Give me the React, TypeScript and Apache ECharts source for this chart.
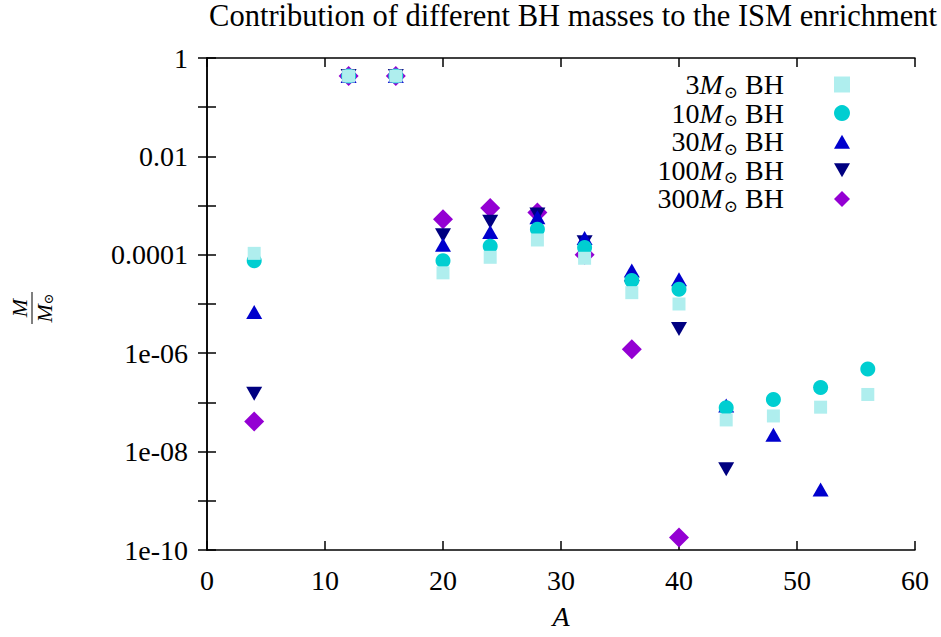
import React, { useEffect, useRef } from "react";
import * as echarts from "echarts";

// Mass number of each isotope group
const massNumbers = [4, 12, 16, 20, 24, 28, 32, 36, 40, 44, 48, 52, 56];

// Ejected mass (in solar masses) per BH mass; null where nothing is ejected
const bh3 = [1.07e-4, 0.43, 0.43, 4.3e-5, 8.9e-5, 2.0e-4, 8.5e-5, 1.7e-5, 1.0e-5, 4.4e-8, 5.3e-8, 8.0e-8, 1.45e-7];
const bh10 = [7.6e-5, 0.43, 0.43, 7.6e-5, 1.5e-4, 3.3e-4, 1.4e-4, 3.0e-5, 2.0e-5, 7.8e-8, 1.15e-7, 2.0e-7, 4.8e-7];
const bh30 = [6.9e-6, 0.43, 0.43, 1.6e-4, 2.9e-4, 5.8e-4, 2.2e-4, 4.8e-5, 3.2e-5, 8.7e-8, 2.2e-8, 1.7e-9, null];
const bh100 = [1.5e-7, 0.43, 0.43, 2.5e-4, 4.7e-4, 6.6e-4, 1.8e-4, 2.2e-5, 3.1e-6, 4.4e-9, null, null, null];
const bh300 = [4.1e-8, 0.43, 0.43, 5.3e-4, 8.9e-4, 7.2e-4, 1.0e-4, 1.2e-6, 1.8e-10, null, null, null, null];

const seriesNames = ["3M⊙ BH", "10M⊙ BH", "30M⊙ BH", "100M⊙ BH", "300M⊙ BH"];
const seriesValues = [bh3, bh10, bh30, bh100, bh300];

// Labelled decades on the y axis
const yTickExponents = [0, -2, -4, -6, -8, -10];
const yTickLabels = ["1", "0.01", "0.0001", "1e-06", "1e-08", "1e-10"];

const SERIF = "'Liberation Serif', 'DejaVu Serif', serif";

const markers = [
  { symbol: "rect", size: 13, color: "#afeeee", icon: "rect" },
  { symbol: "circle", size: 15, color: "#00ced1", icon: "circle" },
  { symbol: "triangle", size: [16, 14], color: "#0000cd", rotate: 0, icon: "path://M8,0 L16,14 L0,14 Z" },
  { symbol: "triangle", size: [16, 14], color: "#000080", rotate: 180, icon: "path://M0,0 L16,0 L8,14 Z" },
  { symbol: "diamond", size: 20, color: "#9400d3", icon: "diamond" },
];

function yLabel(v: number): string {
  const e = Math.round(Math.log10(v));
  const i = yTickExponents.indexOf(e);
  return i >= 0 ? yTickLabels[i] : "";
}

const axisLine = { show: true, lineStyle: { color: "#000", width: 1.5 } };
const axisTick = { show: true, inside: true, length: 9, lineStyle: { color: "#000", width: 1.5 } };

export default function App() {
  const ref = useRef<HTMLDivElement>(null);

  useEffect(() => {
    if (!ref.current) return;
    const chart = echarts.init(ref.current, null, { renderer: "svg" });

    const series = seriesNames.map((name, i) => ({
      name,
      type: "scatter",
      xAxisIndex: 0,
      yAxisIndex: 0,
      z: 10 - i,
      symbol: markers[i].symbol,
      symbolSize: markers[i].size,
      symbolRotate: (markers[i] as any).rotate ?? 0,
      itemStyle: { color: markers[i].color, opacity: 1 },
      data: massNumbers
        .map((a, k) => [a, seriesValues[i][k]])
        .filter((p) => p[1] !== null),
    }));

    const legendRich = {
      n: { fontFamily: SERIF, fontSize: 28, color: "#000", lineHeight: 29 },
      m: { fontFamily: SERIF, fontSize: 28, fontStyle: "italic", color: "#000", lineHeight: 29 },
      s: { fontFamily: "'DejaVu Serif', serif", fontSize: 17, color: "#000", lineHeight: 29, padding: [14, 0, 0, 1] },
      b: { fontFamily: SERIF, fontSize: 28, color: "#000", lineHeight: 29, padding: [0, 45, 0, 0] },
    };

    const yBase = {
      type: "log",
      logBase: 10,
      min: 1e-10,
      max: 1,
      interval: 1,
      splitNumber: 10,
      axisLine,
      axisTick,
      splitLine: { show: false },
      minorTick: { show: false },
    };

    chart.setOption({
      animation: false,
      backgroundColor: "#fff",
      title: {
        text: "Contribution of different BH masses to the ISM enrichment",
        right: 4,
        top: 0,
        padding: 0,
        textStyle: { fontFamily: SERIF, fontSize: 30.5, fontWeight: "normal", color: "#000" },
      },
      grid: { left: 207, right: 26, top: 58, bottom: 87 },
      legend: {
        orient: "vertical",
        align: "right",
        right: 86,
        top: 64,
        itemWidth: 16,
        itemHeight: 16,
        itemGap: -2.4,
        symbolKeepAspect: true,
        data: seriesNames.map((name, i) => ({ name, icon: markers[i].icon })),
        formatter: (name: string) => {
          const num = name.split("M")[0];
          return `{n|${num}}{m|M}{s|⊙}{b| BH}`;
        },
        textStyle: { rich: legendRich },
      },
      xAxis: [
        {
          type: "value",
          position: "bottom",
          min: 0,
          max: 60,
          interval: 10,
          name: "A",
          nameLocation: "middle",
          nameGap: 52,
          nameTextStyle: { fontFamily: SERIF, fontSize: 28, fontStyle: "italic", color: "#000" },
          axisLine,
          axisTick,
          axisLabel: { fontFamily: SERIF, fontSize: 28, color: "#000", margin: 16 },
          splitLine: { show: false },
        },
        {
          type: "value",
          position: "top",
          min: 0,
          max: 60,
          interval: 10,
          axisLine,
          axisTick,
          axisLabel: { show: false },
          splitLine: { show: false },
        },
      ],
      yAxis: [
        {
          ...yBase,
          position: "left",
          axisLabel: {
            fontFamily: SERIF,
            fontSize: 28,
            color: "#000",
            margin: 19,
            formatter: yLabel,
          },
        },
        { ...yBase, position: "right", axisLabel: { show: false } },
      ],
      graphic: [
        {
          type: "group",
          x: 32,
          y: 308,
          rotation: Math.PI / 2,
          children: [
            {
              type: "text",
              x: 0,
              y: -13,
              style: {
                text: "M",
                font: `italic 22px ${SERIF}`,
                fill: "#000",
                textAlign: "center",
                textVerticalAlign: "middle",
              },
            },
            {
              type: "line",
              shape: { x1: -16, y1: 0, x2: 16, y2: 0 },
              style: { stroke: "#000", lineWidth: 1 },
            },
            {
              type: "text",
              x: 0,
              y: 12,
              style: {
                text: "{m|M}{s|⊙}",
                textAlign: "center",
                textVerticalAlign: "middle",
                rich: {
                  m: { fontFamily: SERIF, fontSize: 22, fontStyle: "italic", fill: "#000", lineHeight: 22 },
                  s: { fontFamily: "'DejaVu Serif', serif", fontSize: 13, fill: "#000", lineHeight: 22, padding: [9, 0, 0, 0] },
                },
              },
            },
          ],
        },
      ],
      series,
    });

    return () => chart.dispose();
  }, []);

  return <div ref={ref} style={{ width: 941, height: 637, position: "absolute", left: 0, top: 0 }} />;
}
